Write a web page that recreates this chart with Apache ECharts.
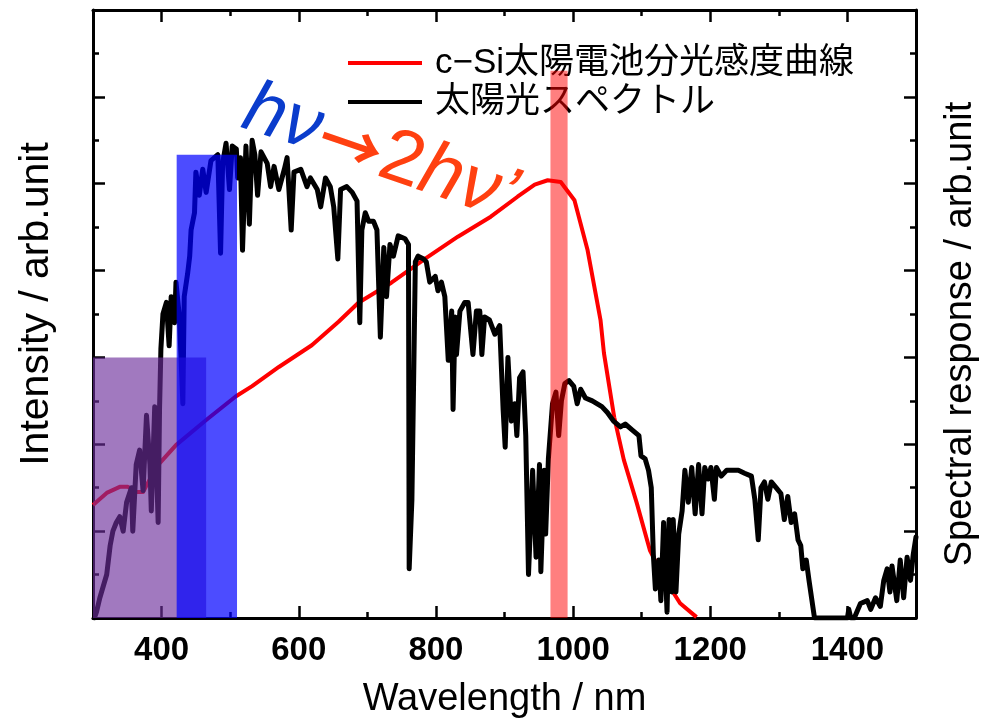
<!DOCTYPE html>
<html><head><meta charset="utf-8">
<script src="https://cdn.jsdelivr.net/npm/echarts@6/dist/echarts.min.js"></script>
<style>html,body{margin:0;padding:0;background:#fff}#c{width:988px;height:725px}</style>
</head><body><div id="c"></div>
<script>
// x tick labels (nm)
const xLabelTicks = [400, 600, 800, 1000, 1200, 1400];
// solar spectrum (black) : wavelength nm / intensity arb.unit
const specWl = [302,305,310,320,325,329,334,339,344,349,356,358,363,368,373,378,383,385,390,395,397,399,402,407,411,414,419,421,426,431,433,438,441,443,448,450,455,460,465,472,477,482,486,489,494,499,503,509,511,515,518,523,528,532,536,540,545,554,559,564,571,579,583,589,593,603,612,617,627,632,639,646,651,657,661,670,678,685,689,692,697,702,709,714,719,724,728,733,738,745,755,760,761,765,770,774,782,786,791,799,803,808,813,818,823,825,828,830,835,842,847,854,859,864,867,871,878,886,893,898,901,905,910,915,918,922,927,931,935,941,946,951,953,958,960,964,970,975,979,983,988,994,1001,1006,1011,1018,1028,1042,1050,1059,1069,1076,1086,1096,1099,1105,1110,1114,1117,1120,1125,1128,1132,1137,1140,1144,1146,1150,1154,1159,1163,1168,1173,1178,1183,1188,1192,1197,1201,1206,1209,1216,1224,1231,1241,1250,1260,1265,1270,1274,1279,1284,1289,1296,1303,1308,1313,1318,1323,1328,1332,1335,1340,1344,1352,1400,1402,1405,1410,1419,1429,1434,1441,1448,1453,1458,1462,1465,1472,1477,1482,1487,1492,1496,1500];
const specVal = [0.00,0.02,0.07,0.15,0.25,0.30,0.33,0.35,0.30,0.40,0.45,0.30,0.53,0.58,0.44,0.70,0.53,0.37,0.73,0.33,0.72,0.93,1.05,1.09,0.94,1.11,1.02,1.16,1.04,0.74,1.11,1.19,1.25,1.34,1.40,1.54,1.46,1.55,1.47,1.58,1.59,1.60,1.26,1.57,1.64,1.48,1.63,1.62,1.52,1.59,1.27,1.63,1.36,1.65,1.60,1.46,1.61,1.57,1.49,1.56,1.48,1.55,1.59,1.34,1.54,1.55,1.49,1.52,1.48,1.42,1.52,1.49,1.42,1.24,1.48,1.49,1.47,1.44,1.02,1.34,1.40,1.37,1.37,1.34,0.97,1.28,1.11,1.29,1.25,1.32,1.31,1.29,0.17,0.41,1.23,1.25,1.24,1.23,1.16,1.18,1.13,1.16,1.11,0.89,1.06,0.72,1.04,0.91,1.06,1.09,1.09,0.91,1.06,1.06,0.91,1.04,1.03,0.98,1.01,0.72,0.59,0.90,0.68,0.74,0.63,0.83,0.85,0.63,0.15,0.51,0.21,0.53,0.16,0.51,0.29,0.55,0.74,0.78,0.63,0.75,0.81,0.82,0.80,0.74,0.79,0.76,0.75,0.73,0.71,0.68,0.66,0.67,0.65,0.63,0.56,0.55,0.51,0.45,0.22,0.10,0.20,0.06,0.33,0.02,0.34,0.09,0.34,0.09,0.29,0.37,0.51,0.40,0.52,0.36,0.53,0.36,0.52,0.48,0.52,0.41,0.52,0.49,0.51,0.51,0.51,0.50,0.49,0.41,0.27,0.45,0.47,0.41,0.47,0.45,0.43,0.34,0.42,0.33,0.36,0.27,0.25,0.17,0.20,0.13,0.00,0.00,0.03,0.00,0.00,0.05,0.06,0.03,0.07,0.04,0.13,0.17,0.09,0.18,0.06,0.20,0.07,0.21,0.13,0.22,0.28];
// c-Si spectral response (red)
const srWl = [300,320,339,351,363,373,385,397,421,465,508,532,571,619,658,687,735,785,832,880,919,944,963,982,1002,1021,1040,1045,1060,1074,1093,1112,1132,1156,1180];
const srVal = [0.130,0.144,0.151,0.151,0.145,0.145,0.163,0.178,0.199,0.228,0.255,0.267,0.289,0.314,0.341,0.363,0.386,0.414,0.439,0.462,0.485,0.499,0.504,0.502,0.481,0.424,0.343,0.305,0.231,0.182,0.132,0.078,0.047,0.017,0.001];
// highlighted bands (nm) and their heights (intensity units)
const bandStart = [300, 422, 967];
const bandEnd = [465, 510, 992];
const bandTop = [0.9, 1.60, 1.89];
const seriesNames = ['c\u2212Si太陽電池分光感度曲線', '太陽光スペクトル'];

const bandColors = ['rgba(108,46,155,0.64)', 'rgba(0,0,255,0.7)', 'rgba(255,0,0,0.5)'];
const LAT = '"Liberation Sans", Arial, sans-serif';
const chart = echarts.init(document.getElementById('c'), null, {renderer: 'canvas'});
const axisLineStyle = {color: '#000', width: 3};
const tickStyle = {color: '#000', width: 2.5};
function xAx(pos, major, extra) {
  return Object.assign({
    type: 'value', position: pos, min: 300, max: 1500, interval: 100,
    axisLine: {show: !major, onZero: false, lineStyle: axisLineStyle},
    axisTick: major ? {show: true, inside: true, length: 12, lineStyle: tickStyle, customValues: xLabelTicks}
                    : {show: true, inside: true, length: 6, lineStyle: tickStyle},
    axisLabel: {show: false},
    splitLine: {show: false}
  }, extra || {});
}
const orange = '#ff4010';
const option = {
  backgroundColor: '#fff',
  animation: false,
  grid: {left: 93, right: 67, top: 10, bottom: 107, containLabel: false},
  legend: {
    data: [{name: seriesNames[0], icon: 'rect'}, {name: seriesNames[1], icon: 'rect'}],
    orient: 'vertical', left: 343, top: 40, itemWidth: 74, itemHeight: 4, itemGap: 3,
    selectedMode: false,
    textStyle: {fontSize: 35, lineHeight: 36, color: '#000', fontFamily: '"Liberation Sans", "Noto Sans CJK JP"', padding: [0, 0, 0, 8]}
  },
  xAxis: [
    xAx('bottom', false, {
      axisLabel: {show: true, customValues: xLabelTicks, margin: 16, color: '#000', fontSize: 33, fontWeight: 'bold', fontFamily: LAT,
                  formatter: function (v) { return String(v); }},
      name: 'Wavelength / nm', nameLocation: 'middle', nameGap: 63,
      nameTextStyle: {fontSize: 38, color: '#000', fontFamily: LAT}
    }),
    xAx('bottom', true),
    xAx('top', false),
    xAx('top', true)
  ],
  yAxis: [
    {type: 'value', position: 'left', min: 0, max: 2.1, interval: 0.3,
     axisLine: {show: true, onZero: false, lineStyle: axisLineStyle},
     axisTick: {show: true, inside: true, length: 12, lineStyle: tickStyle},
     minorTick: {show: true, splitNumber: 2, length: 6, lineStyle: tickStyle},
     axisLabel: {show: false}, splitLine: {show: false}, minorSplitLine: {show: false},
     name: 'Intensity / arb.unit', nameLocation: 'middle', nameRotate: 90, nameGap: 36,
     nameTextStyle: {fontSize: 41, color: '#000', fontFamily: LAT, padding: [0, 0, 0, 20]}},
    {type: 'value', position: 'right', min: 0, max: 0.7, interval: 0.1,
     axisLine: {show: true, onZero: false, lineStyle: axisLineStyle},
     axisTick: {show: true, inside: true, length: 12, lineStyle: tickStyle},
     minorTick: {show: true, splitNumber: 2, length: 6, lineStyle: tickStyle},
     axisLabel: {show: false}, splitLine: {show: false}, minorSplitLine: {show: false},
     name: 'Spectral response / arb.unit', nameLocation: 'middle', nameRotate: 90, nameGap: 26,
     nameTextStyle: {fontSize: 38, color: '#000', fontFamily: LAT, padding: [0, 40, 0, 0]}}
  ],
  series: [
    {name: seriesNames[0], type: 'line', xAxisIndex: 0, yAxisIndex: 1, color: '#ff0000',
     data: srWl.map((w, i) => [w, srVal[i]]), showSymbol: false, symbol: 'none', smooth: false,
     lineStyle: {width: 4, color: '#ff0000', join: 'round'}, z: 2},
    {name: seriesNames[1], type: 'line', xAxisIndex: 0, yAxisIndex: 0, color: '#000000',
     data: specWl.map((w, i) => [w, specVal[i]]), showSymbol: false, symbol: 'none', smooth: false,
     lineStyle: {width: 5, color: '#000', join: 'round', cap: 'round'}, z: 3},
    {name: 'bands', type: 'custom', xAxisIndex: 0, yAxisIndex: 0, z: 4,
     data: bandStart.map((s, i) => [s, bandEnd[i], bandTop[i]]),
     encode: {x: [0, 1], y: 2},
     renderItem: function (params, api) {
       const i = params.dataIndex;
       const p0 = api.coord([api.value(0), api.value(2)]);
       const p1 = api.coord([api.value(1), 0]);
       return {type: 'rect', shape: {x: p0[0], y: p0[1], width: p1[0] - p0[0], height: p1[1] - p0[1]},
               style: {fill: bandColors[i]}};
     }}
  ],
  graphic: [
    {type: 'text', x: 234, y: 142, rotation: -0.32, z: 100,
     style: {text: 'h\u03bd', textVerticalAlign: 'bottom', textAlign: 'left',
       fontSize: 74, fontStyle: 'italic', fill: '#0a3ccc', fontFamily: LAT}},
    {type: 'text', x: 321, y: 134, rotation: -0.33, z: 100,
     style: {text: '{c|\u2192}{b|2}{d|h\u03bd\u2019}', textVerticalAlign: 'middle', textAlign: 'left',
       rich: {
         c: {fontSize: 64, fontWeight: 'bold', fill: orange, fontFamily: '"Noto Sans CJK JP"'},
         b: {fontSize: 76, fill: orange, fontFamily: LAT},
         d: {fontSize: 76, fontStyle: 'italic', fill: orange, fontFamily: LAT}
       }}}
  ]
};
chart.setOption(option);
</script></body></html>
